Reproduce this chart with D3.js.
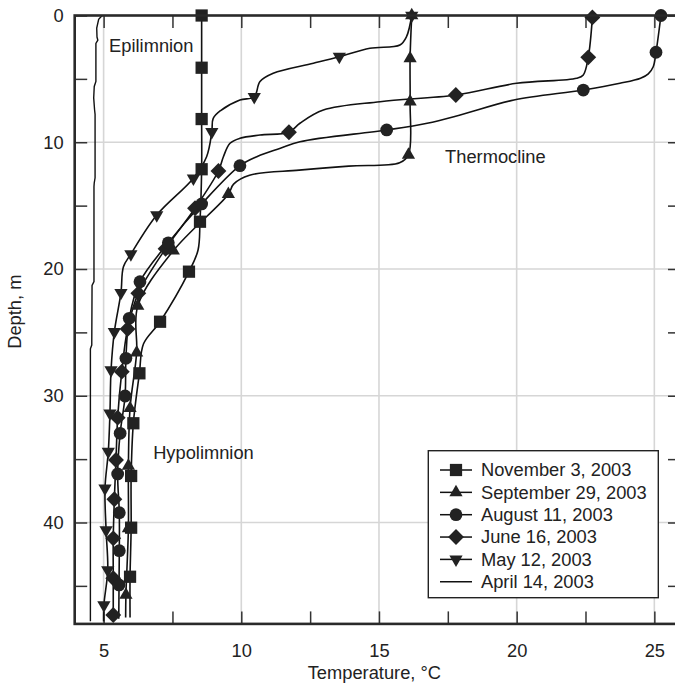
<!DOCTYPE html>
<html>
<head>
<meta charset="utf-8">
<script src="https://cdn.jsdelivr.net/npm/d3@7"></script>
<style>
  body { margin: 0; background: #fff; }
  svg { display: block; font-family: "Liberation Sans", Arial, Helvetica, sans-serif; }
</style>
</head>
<body>
<svg id="chart" width="675" height="683"></svg>
<script>
// ---- Data: temperature profiles, [depth m, temperature °C] ----
const temperatureTicks = [5, 10, 15, 20, 25];
const depthTicks = [0, 10, 20, 30, 40];

const seriesNames = ["November 3, 2003", "September 29, 2003", "August 11, 2003",
                     "June 16, 2003", "May 12, 2003", "April 14, 2003"];
const seriesSymbols = ["square", "triangleUp", "circle", "diamond", "triangleDown", "none"];

// Plotted (marked) samples and the unmarked samples the profile lines also pass through
const nov3Marks = [[0, 8.56], [4.12, 8.56], [8.17, 8.56], [12.13, 8.56], [16.27, 8.5], [20.21, 8.1],
  [24.16, 7.05], [28.23, 6.3], [32.17, 6.08], [36.33, 6.0], [40.41, 6.0], [44.28, 5.96]];
const nov3Line = [[18.5, 8.43], [25.9, 6.45], [47.5, 5.96]];

const sep29Marks = [[0, 16.19], [3.38, 16.13], [6.8, 16.13], [11.0, 16.07], [14.1, 9.53], [18.56, 7.53],
  [22.92, 6.24], [26.6, 6.2], [30.99, 5.96], [35.54, 5.9], [40.46, 5.9], [45.72, 5.81]];
const sep29Line = [[11.62, 15.75], [11.88, 13.9], [12.2, 12.1], [12.6, 10.3], [13.3, 9.72], [47.5, 5.8]];

const aug11Marks = [[0, 25.24], [2.9, 25.06], [5.88, 22.42], [9.03, 15.28], [11.85, 9.95], [14.87, 8.56],
  [17.93, 7.35], [21.0, 6.32], [23.89, 5.93], [27.05, 5.81], [30.02, 5.78], [32.96, 5.6],
  [36.17, 5.51], [39.23, 5.57], [42.22, 5.57], [44.93, 5.56]];
const aug11Line = [[4.04, 24.96], [4.6, 24.78], [4.95, 24.5], [5.35, 23.75], [6.67, 19.9], [7.85, 17.95],
  [8.5, 16.75], [9.96, 12.13], [10.48, 11.42], [11.1, 10.6], [47.6, 5.55]];

const jun16Marks = [[0.15, 22.75], [3.3, 22.6], [6.27, 17.79], [9.21, 11.73], [12.27, 9.17], [15.21, 8.32],
  [18.4, 7.25], [21.92, 6.26], [24.73, 5.87], [28.1, 5.66], [31.73, 5.51], [35.07, 5.45],
  [38.17, 5.39], [41.25, 5.35], [44.4, 5.35], [47.3, 5.35]];
const jun16Line = [[4.69, 22.42], [4.95, 22.18], [5.35, 20.0], [6.8, 15.04], [7.46, 12.98], [8.5, 12.13],
  [9.43, 10.68], [9.69, 9.95], [10.08, 9.59], [11.14, 9.35]];

const may12Marks = [[0, 16.19], [3.25, 13.56], [6.41, 10.47], [9.17, 8.93], [12.84, 8.26], [15.74, 6.93],
  [18.82, 5.99], [21.87, 5.63], [24.95, 5.39], [27.97, 5.27], [31.38, 5.23], [34.41, 5.17],
  [37.3, 5.05], [40.6, 5.09], [43.75, 5.15], [46.51, 5.01]];
const may12Line = [[1.67, 16.0], [2.33, 15.76], [2.59, 14.67], [3.77, 12.62], [4.56, 11.16], [5.21, 10.68],
  [6.67, 9.95], [7.5, 9.25], [8.11, 8.98], [11.14, 8.74], [19.82, 5.72], [47.8, 5.0]];

const apr14Marks = [];
const apr14Line = [[0, 4.95], [0.3, 4.82], [1.0, 4.75], [1.7, 4.76], [1.95, 4.79], [2.2, 4.72],
  [5.2, 4.72], [5.6, 4.66], [6.5, 4.64], [7.4, 4.67], [7.8, 4.69], [12.8, 4.69], [13.2, 4.66],
  [13.5, 4.65], [21.0, 4.65], [21.3, 4.58], [26.0, 4.57], [26.3, 4.52], [47.8, 4.52]];

const seriesMarks = [nov3Marks, sep29Marks, aug11Marks, jun16Marks, may12Marks, apr14Marks];
const seriesLines = [nov3Line, sep29Line, aug11Line, jun16Line, may12Line, apr14Line];

const zoneLabels = ["Epilimnion", "Thermocline", "Hypolimnion"];
const zoneAnchors = [[2.9, 5.2], [11.6, 17.4], [35.0, 6.8]]; // [depth, temperature] where each label starts

// ---- Layout ----
const svg = d3.select("#chart");
const ink = "#222";
const x = d3.scaleLinear().domain([3.95, 25.95]).range([74.7, 680.5]);
const y = d3.scaleLinear().domain([0, 48]).range([15.5, 623.9]);
const [x0, x1] = x.range();
const [y0, y1] = y.range();

// Grid lines
const grid = svg.append("g").attr("stroke", "#d6d6d6").attr("stroke-width", 1.6);
grid.selectAll("line.v").data(temperatureTicks).join("line")
  .attr("x1", d => x(d)).attr("x2", d => x(d)).attr("y1", y0).attr("y2", y1);
grid.selectAll("line.h").data(depthTicks.filter(d => d > 0)).join("line")
  .attr("y1", d => y(d)).attr("y2", d => y(d)).attr("x1", x0).attr("x2", x1);

// Axes: inward ticks on all four sides
const xMinor = d3.range(5, 25.01, 2.5);
const yMinor = d3.range(0, 45.01, 5);
const tickLen = 12.5;

function styleAxis(g) {
  g.select(".domain").remove();
  g.selectAll(".tick line").attr("stroke", "#333").attr("stroke-width", 1.5);
  g.selectAll(".tick text").attr("fill", ink).style("font-size", "18.3px")
    .style("font-family", "\"Liberation Sans\", Arial, Helvetica, sans-serif");
}

svg.append("g").attr("transform", `translate(0,${y1})`)
  .call(d3.axisBottom(x).tickValues(xMinor).tickSize(-tickLen).tickPadding(20)
    .tickFormat(d => temperatureTicks.includes(d) ? d3.format("d")(d) : ""))
  .call(styleAxis);
svg.append("g").attr("transform", `translate(0,${y0})`)
  .call(d3.axisTop(x).tickValues(xMinor).tickSize(-tickLen).tickFormat(""))
  .call(styleAxis);
svg.append("g").attr("transform", `translate(${x0},0)`)
  .call(d3.axisLeft(y).tickValues(yMinor).tickSize(-tickLen).tickPadding(11)
    .tickFormat(d => depthTicks.includes(d) ? d3.format("d")(d) : ""))
  .call(styleAxis);
svg.append("g").attr("transform", `translate(${x1},0)`)
  .call(d3.axisRight(y).tickValues(yMinor).tickSize(-tickLen).tickFormat(""))
  .call(styleAxis);

// Profile lines
const line = d3.line()
  .x(p => x(p[1])).y(p => y(p[0]))
  .curve(d3.curveCatmullRom.alpha(0.5));
const lineLinear = d3.line().x(p => x(p[1])).y(p => y(p[0]));

const profiles = seriesNames.map((name, i) => ({
  name, symbol: seriesSymbols[i], marks: seriesMarks[i],
  pts: seriesMarks[i].concat(seriesLines[i]).sort((a, b) => a[0] - b[0])
}));

svg.append("g").attr("fill", "none").attr("stroke", "#111")
  .selectAll("path").data(profiles).join("path")
  .attr("stroke-width", d => d.symbol === "none" ? 1.4 : 1.6)
  .attr("d", d => d.symbol === "none" ? lineLinear(d.pts) : line(d.pts));

// Marker shapes
function markerPath(kind) {
  switch (kind) {
    case "square": return d3.symbol(d3.symbolSquare, 150)();
    case "circle": return d3.symbol(d3.symbolCircle, 128)();
    case "diamond": return d3.symbol(d3.symbolSquare, 126)();
    case "triangleUp":
    case "triangleDown": return d3.symbol(d3.symbolTriangle, 76)();
  }
  return null;
}
function markerRotation(kind) {
  return kind === "diamond" ? 45 : kind === "triangleDown" ? 180 : 0;
}

const drawOrder = ["June 16, 2003", "May 12, 2003", "November 3, 2003", "September 29, 2003", "August 11, 2003"];
drawOrder.forEach(name => {
  const s = profiles.find(p => p.name === name);
  svg.append("g").attr("fill", ink)
    .selectAll("path").data(s.marks).join("path")
    .attr("transform", p => `translate(${x(p[1])},${y(p[0])}) rotate(${markerRotation(s.symbol)})`)
    .attr("d", markerPath(s.symbol));
});

// Frame
svg.append("rect")
  .attr("x", x0).attr("y", y0).attr("width", x1 - x0).attr("height", y1 - y0)
  .attr("fill", "none").attr("stroke", "#2a2a2a").attr("stroke-width", 2.6);

// Zone labels
svg.append("g").attr("fill", ink).style("font-size", "18.3px")
  .selectAll("text").data(zoneLabels).join("text")
  .attr("x", (d, i) => x(zoneAnchors[i][1]))
  .attr("y", (d, i) => y(zoneAnchors[i][0]))
  .text(d => d);

// Axis titles
svg.append("text").attr("x", (x0 + 674) / 2).attr("y", 679)
  .attr("text-anchor", "middle").attr("fill", ink).style("font-size", "18.3px")
  .text("Temperature, °C");
svg.append("text").attr("transform", `translate(21,${(y0 + y1) / 2 - 8}) rotate(-90)`)
  .attr("text-anchor", "middle").attr("fill", ink).style("font-size", "18.3px")
  .text("Depth, m");

// Legend
const lg = svg.append("g");
lg.append("rect").attr("x", 428.3).attr("y", 450.7).attr("width", 230).attr("height", 147)
  .attr("fill", "#fff").attr("stroke", ink).attr("stroke-width", 1.4);
const rows = lg.selectAll("g.row").data(profiles).join("g")
  .attr("transform", (d, i) => `translate(0,${470 + i * 22.35})`);
rows.append("line").attr("x1", 440).attr("x2", 472).attr("stroke", "#111").attr("stroke-width", 1.5);
rows.filter(d => d.symbol !== "none").append("path")
  .attr("transform", d => `translate(456,0) rotate(${markerRotation(d.symbol)})`)
  .attr("d", d => markerPath(d.symbol)).attr("fill", ink);
rows.append("text").attr("x", 481).attr("dy", "0.35em").attr("fill", ink)
  .style("font-size", "18.3px").text(d => d.name);
</script>
</body>
</html>
